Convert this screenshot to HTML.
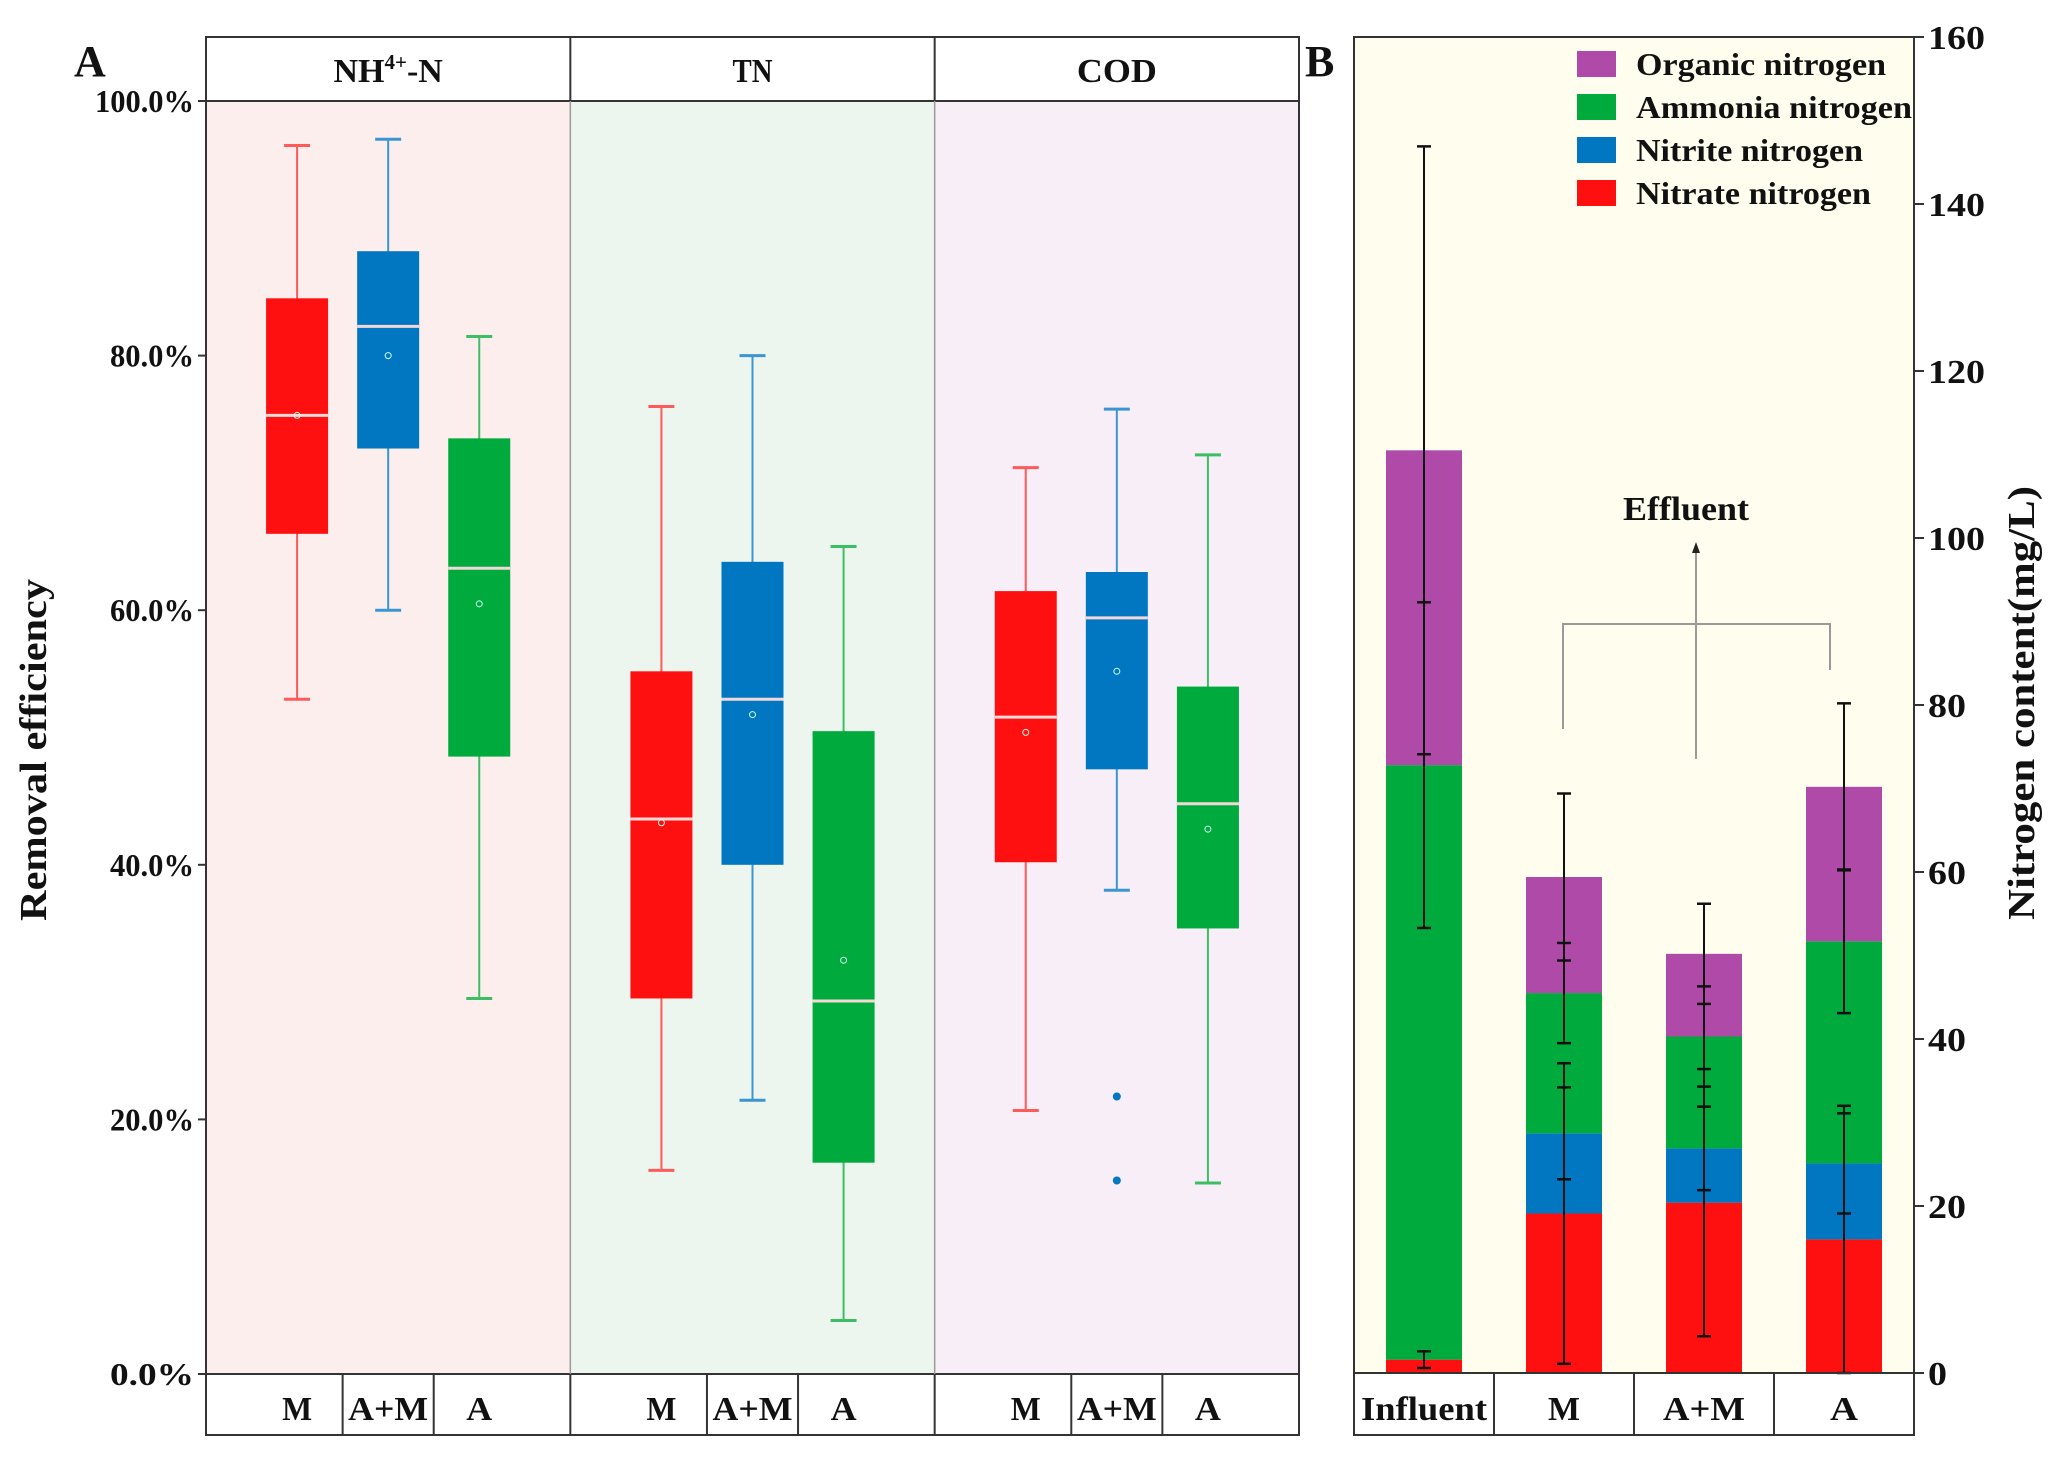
<!DOCTYPE html>
<html><head><meta charset="utf-8"><style>
html,body{margin:0;padding:0;background:#fff}
svg{display:block;font-family:"Liberation Serif",serif;font-weight:bold}
</style></head><body>
<svg id="c" width="2060" height="1457" viewBox="0 0 2060 1457" xmlns="http://www.w3.org/2000/svg"></svg>
<script>
// ---- Panel A data ----
const facets = ["NH4+-N","TN","COD"];
const groups = ["M","A+M","A"];
const whiskLow  = [[53,60,29.5],[16,21.5,4.2],[20.7,38,15]];
const whiskHigh = [[96.5,97,81.5],[76,80,65],[71.2,75.8,72.2]];
const q1 = [[66,72.7,48.5],[29.5,40,16.6],[40.2,47.5,35]];
const q3 = [[84.5,88.2,73.5],[55.2,63.8,50.5],[61.5,63,54]];
const medians = [[75.3,82.3,63.3],[43.6,53,29.3],[51.6,59.4,44.8]];
const means = [[75.3,80,60.5],[43.3,51.8,32.5],[50.4,55.2,42.8]];
const outliers = [[2,1,21.8],[2,1,15.2]]; // [facet, group, value]
const yTicksA = [0,20,40,60,80,100];
// ---- Panel B data ----
const barCats = ["Influent","M","A+M","A"];
const seriesNames = ["Nitrate nitrogen","Nitrite nitrogen","Ammonia nitrogen","Organic nitrogen"];
const nitrate = [1.6,19.1,20.4,16.0];
const nitrite = [0,9.6,6.5,9.1];
const ammonia = [71.2,16.8,13.4,26.6];
const organic = [37.7,13.9,9.9,18.5];
const errNitrate = [1.0,18,16,16];
const errNitrite = [0,5.5,5,6];
const errAmmonia = [19.5,6,6,8.6];
const errOrganic = [36.4,10,6,10];
const yTicksB = [0,20,40,60,80,100,120,140,160];

const NS="http://www.w3.org/2000/svg";
const svg=document.getElementById('c');
function mk(tag,attrs,parent){const e=document.createElementNS(NS,tag);for(const k in attrs)e.setAttribute(k,attrs[k]);(parent||svg).appendChild(e);return e;}
function txt(s,attrs,parent){const e=mk('text',attrs,parent);e.textContent=s;if(attrs.textLength)e.setAttribute('lengthAdjust','spacingAndGlyphs');return e;}

const colors=["#ff1010","#0077c0","#00aa3c"];
const light=["#ff5a5a","#3a95d2","#3cbf64"];
const bgs=["#fdeeee","#edf6ee","#f8eef8"];
const AL=206,AR=1299,AT=37,AH=101,A0=1374,AB=1435;
const fw=(AR-AL)/3;
const yA=v=>A0-(A0-AH)*v/100;
const bw=62;
const gA=mk('g',{});  
for(let f=0;f<3;f++){
  const r=mk('rect',{x:AL+f*fw,y:AH,width:fw,height:A0-AH,fill:bgs[f]},gA);
   
}
for(let f=0;f<3;f++){for(let g=0;g<3;g++){
  const cx=AL+f*fw+fw*(g+1)/4;
  const grp=mk('g',{},gA);
   
  mk('line',{x1:cx,x2:cx,y1:yA(whiskLow[f][g]),y2:yA(whiskHigh[f][g]),stroke:light[g],'stroke-width':2},grp);
  [whiskLow[f][g],whiskHigh[f][g]].forEach(v=>mk('line',{x1:cx-13,x2:cx+13,y1:yA(v),y2:yA(v),stroke:light[g],'stroke-width':3},grp));
  mk('rect',{x:cx-bw/2,y:yA(q3[f][g]),width:bw,height:yA(q1[f][g])-yA(q3[f][g]),fill:colors[g]},grp);
  mk('line',{x1:cx-bw/2,x2:cx+bw/2,y1:yA(medians[f][g]),y2:yA(medians[f][g]),stroke:"#f4d8d8",'stroke-width':3},grp);
  mk('circle',{cx:cx,cy:yA(means[f][g]),r:3,fill:"none",stroke:"#cfe",'stroke-width':1},grp);
}}
outliers.forEach(o=>{const cx=AL+o[0]*fw+fw*(o[1]+1)/4;
  const c=mk('circle',{cx:cx,cy:yA(o[2]),r:4,fill:colors[o[1]]},gA);
   });
mk('rect',{x:AL,y:AT,width:AR-AL,height:AB-AT,fill:"none",stroke:"#333",'stroke-width':2},gA);
mk('line',{x1:AL,x2:AR,y1:AH,y2:AH,stroke:"#333",'stroke-width':2},gA);
mk('line',{x1:AL,x2:AR,y1:A0,y2:A0,stroke:"#333",'stroke-width':2},gA);
for(let f=1;f<3;f++){mk('line',{x1:AL+f*fw,x2:AL+f*fw,y1:AT,y2:AH,stroke:"#333",'stroke-width':2},gA);
  mk('line',{x1:AL+f*fw,x2:AL+f*fw,y1:AH,y2:A0,stroke:"#999",'stroke-width':1.5},gA);
  mk('line',{x1:AL+f*fw,x2:AL+f*fw,y1:A0,y2:AB,stroke:"#333",'stroke-width':2},gA);}
const catLen={"M":30,"A+M":80,"A":26};
for(let f=0;f<3;f++){
  [0.375,0.625].forEach(p=>mk('line',{x1:AL+f*fw+fw*p,x2:AL+f*fw+fw*p,y1:A0,y2:AB,stroke:"#333",'stroke-width':2},gA));
  for(let g=0;g<3;g++){const t=txt(groups[g],{x:AL+f*fw+fw*(g+1)/4,y:1420,'font-size':34,'text-anchor':'middle',fill:'#111',textLength:catLen[groups[g]]},gA);
     }
}
const h0=txt('',{x:AL+fw/2,y:82,'font-size':34,'text-anchor':'middle',fill:'#111'},gA);
h0.innerHTML='NH<tspan font-size="21" dy="-13">4+</tspan><tspan dy="13">-N</tspan>';
 
[['TN',40],['COD',80]].forEach((s,i)=>{const t=txt(s[0],{x:AL+(i+1.5)*fw,y:82,'font-size':34,'text-anchor':'middle',fill:'#111',textLength:s[1]},gA);
   });
yTicksA.forEach(v=>{mk('line',{x1:AL-8,x2:AL,y1:yA(v),y2:yA(v),stroke:'#333','stroke-width':2},gA);
  const s=v.toFixed(1)+'%';
  const t=txt(s,{x:AL-12,y:yA(v)+11,'font-size':32,'text-anchor':'end',fill:'#111',textLength:v===100?99:84},gA);
   });
const yt=txt('Removal efficiency',{x:46,y:750,'font-size':38,'text-anchor':'middle',fill:'#111',textLength:342,transform:'rotate(-90 46 750)'},gA);
 
const la=txt('A',{x:74,y:76,'font-size':44,fill:'#111'},gA);
 

// ---- Panel B ----
const BL=1354,BR=1914,BT=37,B0=1373,BB=1435;
const yB=v=>B0-(B0-BT)*v/160;
const cw=(BR-BL)/4, barW=76;
const gB=mk('g',{});  
const bgB=mk('rect',{x:BL,y:BT,width:BR-BL,height:B0-BT,fill:'#fefdee'},gB);
 
const stack=[nitrate,nitrite,ammonia,organic];
const errs=[errNitrate,errNitrite,errAmmonia,errOrganic];
const bcol=["#ff1010","#0077c0","#00aa3c","#b04aa8"];
for(let i=0;i<4;i++){const cx=BL+cw*(i+0.5);let base=0;
  for(let s=0;s<4;s++){const v=stack[s][i];
    const r=mk('rect',{x:cx-barW/2,y:yB(base+v),width:barW,height:yB(base)-yB(base+v),fill:bcol[s]},gB);
     
    base+=v;}
}
for(let i=0;i<4;i++){const cx=BL+cw*(i+0.5);let base=0;
  for(let s=0;s<4;s++){base+=stack[s][i];const e=errs[s][i];if(e<=0)continue;
    const lo=Math.max(0,base-e),hi=base+e;
    const eg=mk('g',{},gB);  
    mk('line',{x1:cx,x2:cx,y1:yB(lo),y2:yB(hi),stroke:'#111','stroke-width':2},eg);
    [lo,hi].forEach(v=>mk('line',{x1:cx-7,x2:cx+7,y1:yB(v),y2:yB(v),stroke:'#111','stroke-width':2.5},eg));
  }}
const br=mk('g',{},gB);  
mk('polyline',{points:'1563,729 1563,624 1830,624 1830,670',fill:'none',stroke:'#999','stroke-width':2},br);
mk('line',{x1:1696,x2:1696,y1:759,y2:552,stroke:'#999','stroke-width':2},br);
mk('polygon',{points:'1692,553 1700,553 1696,542',fill:'#222'},br);
const ef=txt('Effluent',{x:1686,y:520,'font-size':34,'text-anchor':'middle',fill:'#111',textLength:126},gB);
 
mk('rect',{x:BL,y:BT,width:BR-BL,height:BB-BT,fill:'none',stroke:'#333','stroke-width':2},gB);
mk('line',{x1:BL,x2:BR,y1:B0,y2:B0,stroke:'#333','stroke-width':2},gB);
const bcLen=[126,32,82,28];
for(let i=0;i<4;i++){if(i>0)mk('line',{x1:BL+cw*i,x2:BL+cw*i,y1:B0,y2:BB,stroke:'#333','stroke-width':2},gB);
  const t=txt(barCats[i],{x:BL+cw*(i+0.5),y:1420,'font-size':34,'text-anchor':'middle',fill:'#111',textLength:bcLen[i]},gB);
   }
yTicksB.forEach(v=>{mk('line',{x1:BR,x2:BR+10,y1:yB(v),y2:yB(v),stroke:'#333','stroke-width':2},gB);
  const s=String(v);
  const t=txt(s,{x:BR+14,y:yB(v)+12,'font-size':34,fill:'#111',textLength:s.length*19},gB);
   });
const ry=txt('Nitrogen content(mg/L)',{x:2034,y:703,'font-size':38,'text-anchor':'middle',fill:'#111',textLength:434,transform:'rotate(-90 2034 703)'},gB);
 
const lb=txt('B',{x:1305,y:76,'font-size':44,fill:'#111'},gB);
 
const legOrder=[3,2,1,0];
const legLen={3:250,2:276,1:227,0:235};
legOrder.forEach((s,k)=>{const y=64+k*43;
  const lg=mk('g',{},gB);  
  mk('rect',{x:1577,y:y-13,width:39,height:26,fill:bcol[s]},lg);
  txt(seriesNames[s],{x:1636,y:y+11,'font-size':32,fill:'#111',textLength:legLen[s]},lg);});
</script>
</body></html>
